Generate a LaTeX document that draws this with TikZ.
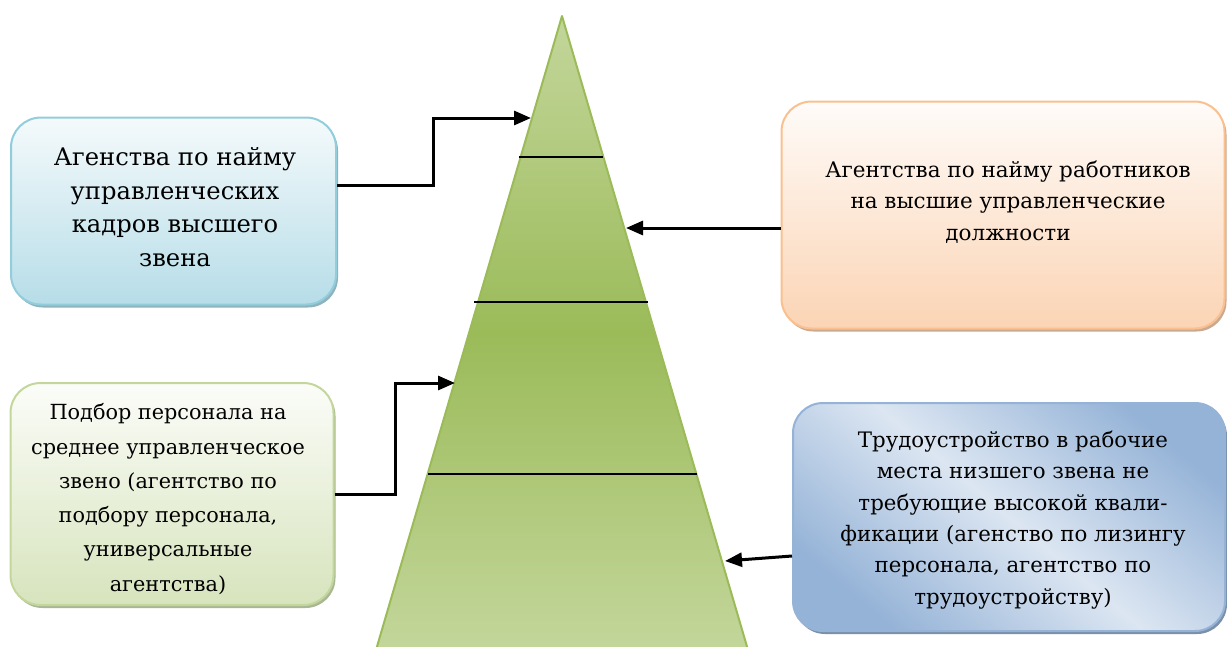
\documentclass[tikz,border=0pt]{standalone}
\usepackage{fontspec}
\setmainfont{DejaVu Serif}
\usetikzlibrary{arrows.meta,shadows}
\definecolor{bluefill}{HTML}{B7DDE8}
\definecolor{blueline}{HTML}{92CDDC}
\definecolor{blueshadow}{HTML}{8FB3BD}
\definecolor{orfill}{HTML}{FBD4B4}
\definecolor{orline}{HTML}{FAC090}
\definecolor{orshadow}{HTML}{C9AA90}
\definecolor{grfill}{HTML}{D7E4BD}
\definecolor{grline}{HTML}{C3D69B}
\definecolor{grshadow}{HTML}{AAB794}
\definecolor{bbdark}{HTML}{95B3D7}
\definecolor{bblight}{HTML}{DCE6F2}
\definecolor{bbshadow}{HTML}{7A8FA8}
\definecolor{pylight}{HTML}{C3D69B}
\definecolor{pydark}{HTML}{9BBB59}
\tikzset{
  box/.style={rectangle, rounded corners=30pt, line width=2pt, inner sep=0pt},
  txt/.style={align=center, inner sep=0pt},
  conn/.style={line width=3pt, -{Triangle[length=17pt,width=14pt]}},
  tier/.style={line width=1.8pt, black},
}
\begin{document}
\begin{tikzpicture}[x=1pt,y=-1pt]
\useasboundingbox (0,0) rectangle (1227,646);
% pyramid
\begin{scope}
\clip (0,0) rectangle (1227,646);
\path[top color=pylight, bottom color=pylight, middle color=pydark]
  (562,16) -- (748,650) -- (376,650) -- cycle;
\draw[pydark, line width=2pt, line join=round] (376,650) -- (562,16) -- (748,650);
\end{scope}
\coordinate (l1a) at (519,157); \coordinate (l1b) at (603,157);
\coordinate (l2a) at (474,302); \coordinate (l2b) at (648,302);
\coordinate (l3a) at (428,474); \coordinate (l3b) at (697,474);
\draw[tier] (l1a) -- (l1b);
\draw[tier] (l2a) -- (l2b);
\draw[tier] (l3a) -- (l3b);
% boxes
\node[box, draw=blueline, top color=white!85!bluefill, bottom color=bluefill,
  general shadow={shadow xshift=2pt, shadow yshift=-3pt, fill=blueshadow},
  minimum width=325pt, minimum height=187pt] (b1) at (173.5,211) {};
\node[txt, font=\fontsize{24.2}{33.5}\selectfont] (t1) at (175,207)
  {Агенства по найму\\управленческих\\кадров высшего\\звена};
\node[box, draw=orline, top color=white!92!orfill, bottom color=orfill,
  general shadow={shadow xshift=2pt, shadow yshift=-3pt, fill=orshadow},
  minimum width=443pt, minimum height=227pt] (b2) at (1003,215) {};
\node[txt, font=\fontsize{21.5}{31.5}\selectfont] (t2) at (1008,202)
  {Агентства по найму работников\\на высшие управленческие\\должности};
\node[box, draw=grline, top color=white!90!grfill, bottom color=grfill,
  general shadow={shadow xshift=2pt, shadow yshift=-3pt, fill=grshadow},
  minimum width=323pt, minimum height=222pt] (b3) at (172,494) {};
\node[txt, font=\fontsize{20.8}{34.3}\selectfont] (t3) at (168,499)
  {Подбор персонала на\\среднее управленческое\\звено (агентство по\\подбору персонала,\\универсальные\\агентства)};
\node[box, draw=bbdark, top color=bbdark, bottom color=bbdark, middle color=bblight, shading angle=-40,
  general shadow={shadow xshift=2pt, shadow yshift=-3pt, fill=bbshadow},
  minimum width=432pt, minimum height=228pt] (b4) at (1009,517) {};
\node[txt, font=\fontsize{21.3}{31.3}\selectfont] (t4) at (1013,520)
  {Трудоустройство в рабочие\\места низшего звена не\\требующие высокой квали-\\фикации (агенство по лизингу\\персонала, агентство по\\трудоустройству)};
% connectors
\coordinate (p1) at (531,118);
\coordinate (p2) at (626,228);
\coordinate (p3) at (455,383);
\coordinate (p4) at (725,561);
\draw[conn] ([yshift=26pt]b1.east) -- (433,185) |- (p1);
\draw[conn] ([yshift=-13pt]b2.west) -- (p2);
\draw[conn] (b3.east) -- (395,494) |- (p3);
\draw[conn] ([yshift=-39pt]b4.west) -- (p4);
\end{tikzpicture}
\end{document}
